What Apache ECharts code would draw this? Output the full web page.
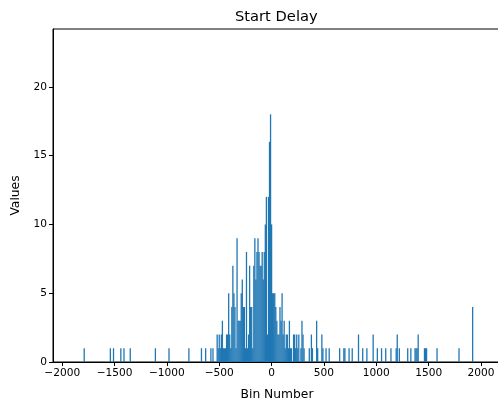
<!DOCTYPE html>
<html lang="en">
<head>
    <meta charset="UTF-8">
    <script src="https://cdn.jsdelivr.net/npm/echarts@6.0.0/dist/echarts.min.js"></script>
    <title>Start Delay</title>
    <style>
        html, body { margin: 0; padding: 0; background: #fff; }
    </style>
</head>
<body>
<div id="chart" style="width: 498px;height: 400px"></div>
<script type="text/javascript">
    // bin positions (Bin Number) and counts
    var binPos = [
        -1790, -1540, -1510, -1440, -1410, -1350, -1110, -980, -790, -670, -630, -580, -560,
        -520, -510, -500, -490, -480, -470, -460, -450, -440, -430, -420, -410, -400, -390,
        -380, -370, -360, -350, -340, -330, -320, -310, -300, -290, -280, -270, -260, -250,
        -240, -230, -220, -210, -200, -190, -180, -170, -160, -150, -140, -130, -120, -110,
        -100, -90, -80, -70, -60, -50, -40, -30, -20, -10, 0, 10, 20, 30, 40, 50,
        60, 70, 80, 90, 100, 110, 120, 130, 140, 150, 160, 170, 180, 190,
        210, 220, 230, 240, 250, 260, 280, 290, 300, 310,
        360, 380, 390, 430, 440, 480, 490, 520, 550, 650, 690, 700, 740, 770,
        830, 870, 910, 970, 1010, 1050, 1090, 1140, 1190, 1200, 1220, 1300, 1330,
        1370, 1380, 1390, 1400, 1460, 1470, 1480, 1580, 1790, 1920
    ];
    var binCount = [
        1, 1, 1, 1, 1, 1, 1, 1, 1, 1, 1, 1, 1,
        2, 1, 2, 1, 2, 3, 1, 1, 1, 2, 2, 5, 2, 1,
        4, 7, 5, 4, 1, 9, 3, 3, 3, 5, 6, 4, 4, 1,
        8, 1, 2, 7, 4, 4, 1, 7, 9, 6, 8, 9, 8, 7,
        7, 8, 6, 8, 10, 12, 2, 12, 16, 18, 10, 5, 5, 5, 4, 3,
        2, 2, 4, 3, 5, 2, 3, 1, 2, 2, 1, 3, 1, 1,
        2, 2, 1, 2, 1, 2, 1, 3, 2, 1,
        1, 2, 1, 3, 1, 2, 1, 1, 1, 1, 1, 1, 1, 1,
        2, 1, 1, 2, 1, 1, 1, 1, 1, 2, 1, 1, 1,
        1, 1, 1, 2, 1, 1, 1, 1, 1, 4
    ];
    var xTicks = [-2000, -1500, -1000, -500, 0, 500, 1000, 1500, 2000];
    var yTicks = [0, 5, 10, 15, 20];

    var barData = [];
    for (var i = 0; i < binPos.length; i++) {
        barData.push([binPos[i], binCount[i]]);
    }

    function minusSign(v) {
        return String(v).replace('-', '\u2212');
    }

    var chart = echarts.init(document.getElementById('chart'));
    chart.setOption({
        animation: false,
        textStyle: { fontFamily: 'DejaVu Sans' },
        title: {
            text: 'Start Delay',
            left: 230,
            top: 5,
            textStyle: { fontSize: 14.7, fontWeight: 'normal', color: '#000', fontFamily: 'DejaVu Sans' }
        },
        grid: {
            left: 53,
            right: -3,
            top: 29,
            bottom: 38,
            outerBoundsMode: 'none',
            containLabel: false,
            show: true,
            borderColor: '#000',
            borderWidth: 1
        },
        xAxis: {
            type: 'value',
            min: -2088,
            max: 2191,
            name: 'Bin Number',
            nameLocation: 'middle',
            nameGap: 27,
            nameTextStyle: { fontSize: 12.3, color: '#000' },
            splitLine: { show: false },
            axisLine: { onZero: false, lineStyle: { color: '#000', width: 1 } },
            axisTick: { length: 4, lineStyle: { color: '#000' }, customValues: xTicks },
            axisLabel: { fontSize: 10.6, color: '#000', margin: 6, customValues: xTicks, formatter: minusSign }
        },
        yAxis: {
            type: 'value',
            min: 0,
            max: 24.2,
            name: 'Values',
            nameLocation: 'middle',
            nameGap: 31,
            nameTextStyle: { fontSize: 12.3, color: '#000' },
            splitLine: { show: false },
            axisLine: { show: true, onZero: false, lineStyle: { color: '#000', width: 1 } },
            axisTick: { show: true, length: 4, lineStyle: { color: '#000' }, customValues: yTicks },
            axisLabel: { fontSize: 10.6, color: '#000', margin: 6, customValues: yTicks }
        },
        series: [
            {
                type: 'bar',
                data: barData,
                barWidth: 1.3,
                itemStyle: { color: '#1f77b4' }
            }
        ]
    });
</script>
</body>
</html>
